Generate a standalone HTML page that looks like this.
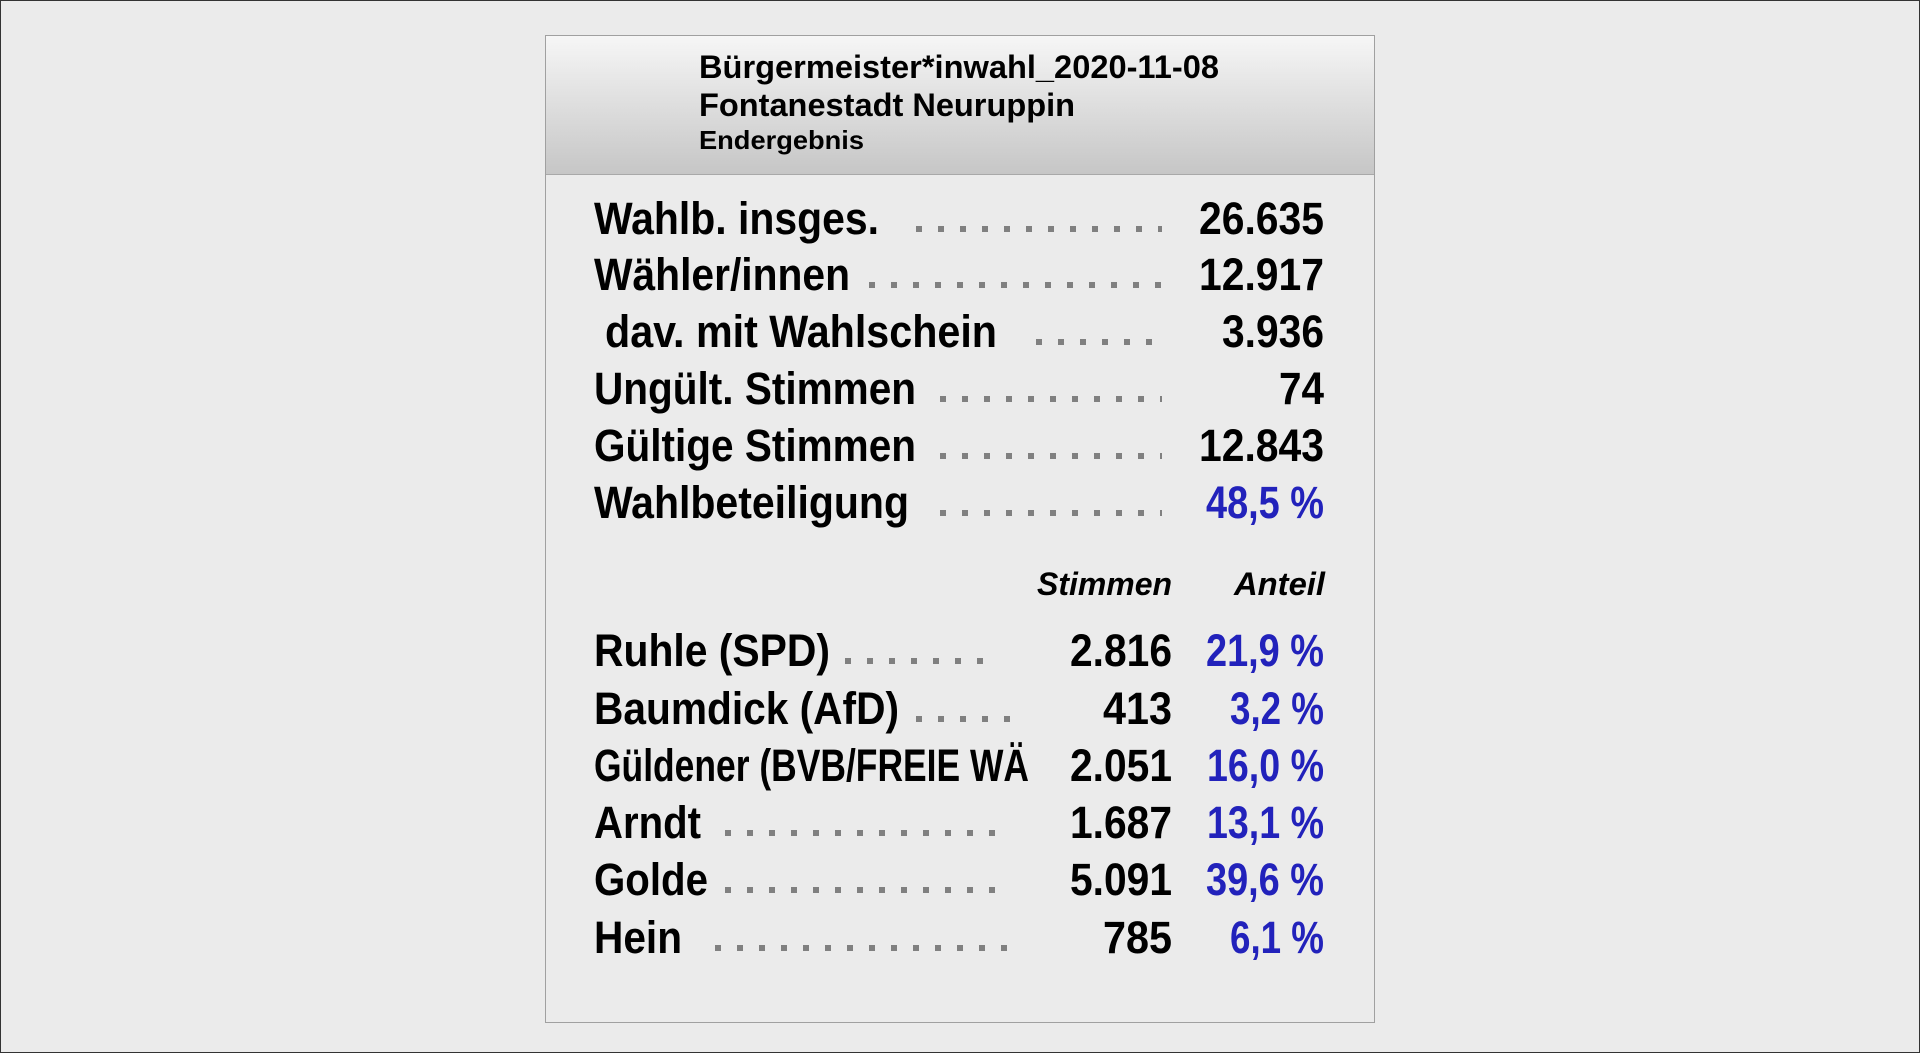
<!DOCTYPE html>
<html><head><meta charset="utf-8"><style>
html,body{margin:0;padding:0;background:#ebebeb;}
svg{display:block;}
text{font-family:"Liberation Sans",Arial,sans-serif;font-weight:bold;}
</style></head><body>
<svg width="1920" height="1053" viewBox="0 0 1920 1053" xmlns="http://www.w3.org/2000/svg">
<defs><linearGradient id="hg" x1="0" y1="0" x2="0" y2="1"><stop offset="0" stop-color="#f6f6f6"/><stop offset="1" stop-color="#c6c6c6"/></linearGradient></defs>
<rect x="0.5" y="0.5" width="1919" height="1052" fill="#ebebeb" stroke="#333" stroke-width="1"/>
<rect x="545.5" y="35.5" width="829" height="987" fill="#ebebeb" stroke="#a0a0a0"/>
<rect x="546" y="36" width="828" height="138" fill="url(#hg)"/>
<line x1="546" y1="174.5" x2="1374" y2="174.5" stroke="#a8a8a8"/>
<g fill="#000">
<text x="699" y="78" font-size="32" textLength="520" lengthAdjust="spacingAndGlyphs">Bürgermeister*inwahl_2020-11-08</text>
<text x="699" y="116" font-size="32" textLength="376" lengthAdjust="spacingAndGlyphs">Fontanestadt Neuruppin</text>
<text x="699" y="149" font-size="26" textLength="165" lengthAdjust="spacingAndGlyphs">Endergebnis</text>
<g font-size="45">
<text x="594" y="234" textLength="285" lengthAdjust="spacingAndGlyphs">Wahlb. insges.</text>
<text x="594" y="290" textLength="256" lengthAdjust="spacingAndGlyphs">Wähler/innen</text>
<text x="605" y="347" textLength="392" lengthAdjust="spacingAndGlyphs">dav. mit Wahlschein</text>
<text x="594" y="404" textLength="322" lengthAdjust="spacingAndGlyphs">Ungült. Stimmen</text>
<text x="594" y="461" textLength="322" lengthAdjust="spacingAndGlyphs">Gültige Stimmen</text>
<text x="594" y="518" textLength="315" lengthAdjust="spacingAndGlyphs">Wahlbeteiligung</text>
<g text-anchor="end" lengthAdjust="spacingAndGlyphs">
<text x="1324" y="234" textLength="125" lengthAdjust="spacingAndGlyphs">26.635</text>
<text x="1324" y="290" textLength="125" lengthAdjust="spacingAndGlyphs">12.917</text>
<text x="1324" y="347" textLength="102" lengthAdjust="spacingAndGlyphs">3.936</text>
<text x="1324" y="404" textLength="45" lengthAdjust="spacingAndGlyphs">74</text>
<text x="1324" y="461" textLength="125" lengthAdjust="spacingAndGlyphs">12.843</text>
<text x="1324" y="518" fill="#2222bb" textLength="118" lengthAdjust="spacingAndGlyphs">48,5 %</text>
</g>
<text x="594" y="666" textLength="236" lengthAdjust="spacingAndGlyphs">Ruhle (SPD)</text>
<text x="594" y="724" textLength="305" lengthAdjust="spacingAndGlyphs">Baumdick (AfD)</text>
<text x="594" y="781" textLength="435" lengthAdjust="spacingAndGlyphs">Güldener (BVB/FREIE WÄ</text>
<text x="594" y="838" textLength="107" lengthAdjust="spacingAndGlyphs">Arndt</text>
<text x="594" y="895" textLength="114" lengthAdjust="spacingAndGlyphs">Golde</text>
<text x="594" y="953" textLength="88" lengthAdjust="spacingAndGlyphs">Hein</text>
<g text-anchor="end">
<text x="1172" y="666" textLength="102" lengthAdjust="spacingAndGlyphs">2.816</text>
<text x="1172" y="724" textLength="69" lengthAdjust="spacingAndGlyphs">413</text>
<text x="1172" y="781" textLength="102" lengthAdjust="spacingAndGlyphs">2.051</text>
<text x="1172" y="838" textLength="102" lengthAdjust="spacingAndGlyphs">1.687</text>
<text x="1172" y="895" textLength="102" lengthAdjust="spacingAndGlyphs">5.091</text>
<text x="1172" y="953" textLength="69" lengthAdjust="spacingAndGlyphs">785</text>
</g>
<g text-anchor="end" fill="#2222bb">
<text x="1324" y="666" textLength="118" lengthAdjust="spacingAndGlyphs">21,9 %</text>
<text x="1324" y="724" textLength="94" lengthAdjust="spacingAndGlyphs">3,2 %</text>
<text x="1324" y="781" textLength="117" lengthAdjust="spacingAndGlyphs">16,0 %</text>
<text x="1324" y="838" textLength="117" lengthAdjust="spacingAndGlyphs">13,1 %</text>
<text x="1324" y="895" textLength="118" lengthAdjust="spacingAndGlyphs">39,6 %</text>
<text x="1324" y="953" textLength="94" lengthAdjust="spacingAndGlyphs">6,1 %</text>
</g>
</g>
<g font-size="32" font-style="italic" text-anchor="end">
<text x="1172" y="595" textLength="135" lengthAdjust="spacingAndGlyphs">Stimmen</text>
<text x="1325" y="595" textLength="91" lengthAdjust="spacingAndGlyphs">Anteil</text>
</g>
</g>
<g stroke="#808080" stroke-width="6" stroke-dasharray="6 16">
<line x1="916" y1="229" x2="1162" y2="229"/>
<line x1="869" y1="285" x2="1162" y2="285"/>
<line x1="1036" y1="342" x2="1162" y2="342"/>
<line x1="940" y1="399" x2="1162" y2="399"/>
<line x1="940" y1="456" x2="1162" y2="456"/>
<line x1="940" y1="513" x2="1162" y2="513"/>
<line x1="845" y1="661" x2="996" y2="661"/>
<line x1="916" y1="719" x2="1020" y2="719"/>
<line x1="725" y1="833" x2="996" y2="833"/>
<line x1="725" y1="890" x2="996" y2="890"/>
<line x1="715" y1="948" x2="1020" y2="948"/>
</g>
</svg>
</body></html>
